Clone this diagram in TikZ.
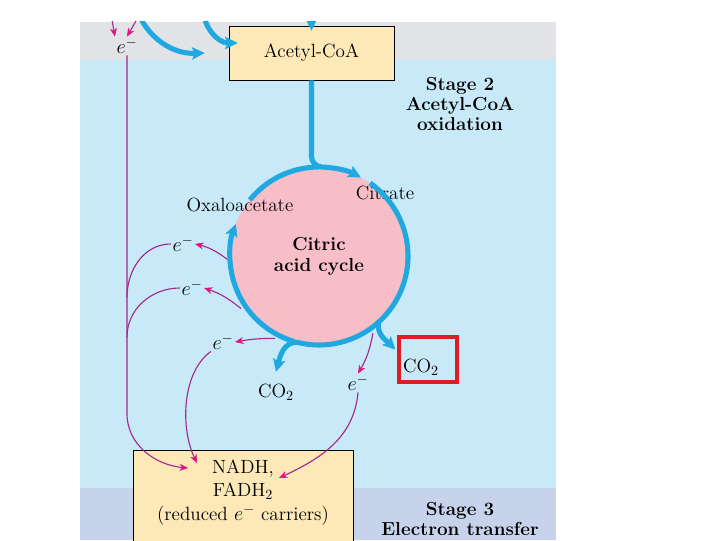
\documentclass[tikz,border=0pt]{standalone}
\usepackage{tikz}
\definecolor{bandgray}{RGB}{225,227,230}
\definecolor{bandblue}{RGB}{199,233,248}
\definecolor{bandstage}{RGB}{198,211,234}
\definecolor{boxyellow}{RGB}{253,233,183}
\definecolor{cyclepink}{RGB}{247,190,200}
\definecolor{cyclecyan}{RGB}{32,168,224}
\definecolor{elecline}{RGB}{165,40,140}
\definecolor{elechead}{RGB}{226,18,128}
\definecolor{markred}{RGB}{222,28,36}
\usetikzlibrary{arrows.meta}
\tikzset{
	carrier/.style={rectangle, draw=black, fill=boxyellow, line width=0.6pt, align=center, inner sep=0pt},
	stagelabel/.style={align=center, font=\fontsize{13.4}{14.4}\selectfont\bfseries},
	cyclenode/.style={circle, fill=cyclepink, minimum size=4.45cm, inner sep=0pt, align=center, font=\fontsize{13.4}{15}\selectfont\bfseries},
	cyclearc/.style={draw=cyclecyan, line width=3.6pt},
	cycleflow/.style={cyclearc, -{Stealth[length=9pt, width=9pt, inset=2pt, line width=0.4pt]}},
	elabel/.style={inner sep=1pt},
	elecplain/.style={draw=elecline, line width=0.8pt},
	elec/.style={elecplain, -{Stealth[length=6pt, width=5pt, line width=0.4pt, color=elechead]}},
	product/.style={inner sep=2pt},
}

\begin{document}
\begin{tikzpicture}[x=0.025cm, y=0.025cm, font=\fontsize{13.6}{14.6}\selectfont]
	% stage bands
	\useasboundingbox[fill=white] (0,0) rectangle (720,540);
	\fill[bandgray] (80,480) rectangle (556,518);
	\fill[bandblue] (80,52) rectangle (556,480);
	\fill[bandstage] (80,0) rectangle (556,52);

	\node[carrier, minimum width=4.125cm, minimum height=1.35cm] (acetyl) at (311.5,487) {Acetyl-CoA};
	\node[stagelabel] (stagetwo) at (460,436) {Stage 2\\Acetyl-CoA\\oxidation};
	\node[cyclenode] (cycle) at (319,284) {Citric\\acid cycle};
	\node (oxalo) at (240,335) {Oxaloacetate};
	\node (citrate) at (385,347) {Citrate};
	\node[draw=markred, line width=2.4pt, minimum width=1.45cm, minimum height=1.125cm] (mark) at (428,180.5) {};
	\node[product] (co2right) at (421,173) {CO$_2$};
	\node[product] (co2bot) at (276,148) {CO$_2$};
	\node[carrier, anchor=north, minimum width=5.5cm, inner ysep=6.5pt, text depth=14pt, font=\fontsize{13.6}{16.8}\selectfont] (nadh) at (243,90) {NADH,\\FADH$_2$\\(reduced $e^-$ carriers)};
	\node[stagelabel] (stagethree) at (460,21) {Stage 3\\Electron transfer};

	\node[elabel] (etop) at (127,494) {$e^-$};
	\node[elabel] (eone) at (183,296) {$e^-$};
	\node[elabel] (etwo) at (192,252) {$e^-$};
	\node[elabel] (ethree) at (223,198) {$e^-$};
	\node[elabel] (efour) at (358,157) {$e^-$};

	\coordinate (joinone) at (127,243);
	\coordinate (jointwo) at (127,203);
	\coordinate (nadhleft) at (188,72);
	\coordinate (nadhmid) at (197,77);
	\coordinate (nadhright) at (279,62);
	\coordinate (upa) at (136,532);
	\coordinate (upb) at (203,532);
	\coordinate (upc) at (311.5,545);
	\coordinate (ina) at (111,526);
	\coordinate (inb) at (140,526);

	% incoming from stage 1
	\begin{scope}
		\clip (80,0) rectangle (556,518);
		\draw[cycleflow] (upa) to[out=-70, in=182] ([shift={(-24,0)}]acetyl.west);
		\draw[cycleflow] (upb) to[out=-90, in=180] ([shift={(9,10)}]acetyl.west);
		\draw[cycleflow] (upc) -- ([shift={(0,-5)}]acetyl.north);
		\draw[elec] (ina) -- (etop.north west);
		\draw[elec] (inb) -- (etop.north);
	\end{scope}

	% the cycle
	\draw[cycleflow] (acetyl.south) -- ++(0,-76) to[out=-90, in=178] ([shift={(88:2.225cm)}]cycle.center) arc[start angle=88, end angle=62, radius=2.225cm];
	\draw[cyclearc] ([shift={(141:2.225cm)}]cycle.center) arc[start angle=141, end angle=90, radius=2.225cm];
	\draw[cycleflow] ([shift={(55:2.225cm)}]cycle.center) arc[start angle=55, end angle=-48, radius=2.225cm] to[out=-100, in=135] ([shift={(-2,10)}]mark.west);
	\draw[cycleflow] ([shift={(-48:2.225cm)}]cycle.center) arc[start angle=-48, end angle=-104, radius=2.225cm] to[out=175, in=75] ([shift={(0,9)}]co2bot.north);
	\draw[cycleflow] ([shift={(-106:2.225cm)}]cycle.center) arc[start angle=-106, end angle=-201, radius=2.225cm];

	% electrons to the carriers
	\draw[elec] ([shift={(182:2.3cm)}]cycle.center) to[bend right=12] (eone.east);
	\draw[elec] ([shift={(214:2.35cm)}]cycle.center) to[bend right=10] (etwo.east);
	\draw[elec] ([shift={(242:2.33cm)}]cycle.center) to[bend right=5] (ethree.east);
	\draw[elec] ([shift={(-55:2.35cm)}]cycle.center) to[bend left=10] (efour.north);
	\draw[elecplain] (eone.west) to[out=180, in=90] (joinone);
	\draw[elecplain] (etwo.west) to[out=180, in=90] (jointwo);
	\draw[elec] (etop.south) -- ++(0,-358) to[out=-90, in=175] (nadhleft);
	\draw[elec] (ethree.south west) .. controls (182,168) and (180,112) .. (nadhmid);
	\draw[elec] (efour.south) to[out=-95, in=25] (nadhright);
\end{tikzpicture}
\end{document}
